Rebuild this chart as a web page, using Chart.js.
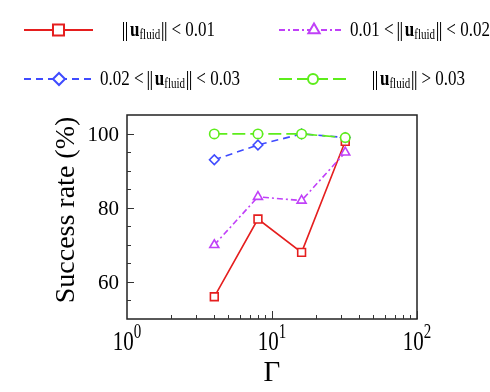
<!DOCTYPE html>
<html>
<head>
<meta charset="utf-8">
<script src="https://cdn.jsdelivr.net/npm/chart.js@4"></script>
<style>
  html, body { margin: 0; padding: 0; background: #fff; }
  canvas { display: block; }
</style>
</head>
<body>
<canvas id="chart" width="490" height="392"></canvas>
<script>
// data
var gammaValues = [4, 8, 16, 32];
var rateBelow001 = [56, 77, 68, 98];
var rate001to002 = [70, 83, 82, 95];
var rate002to003 = [93, 97, 100, 99];
var rateAbove003 = [100, 100, 100, 99];
var yTickValues = [60, 80, 100];
var xTickExponents = [0, 1, 2];
// legend text: [left part, right part] around the norm
var legendParts = [['', ' < 0.01'], ['0.01 < ', ' < 0.02'], ['0.02 < ', ' < 0.03'], ['', ' > 0.03']];

var SERIF = '"Liberation Serif", "Times New Roman", serif';
var TEXT_STRETCH = 1.25;

function toPoints(ys) {
  return gammaValues.map(function (g, i) { return { x: g, y: ys[i] }; });
}

// series styles
var series = [
  { data: rateBelow001, color: '#e51e1e', dash: [], style: 'rect', r: 5.5, lr: 7.8, order: 3 },
  { data: rate001to002, color: '#c040f8', dash: [6, 3, 2, 3], style: 'triangle', r: 5.2, lr: 6.5, order: 2 },
  { data: rate002to003, color: '#3f4bff', dash: [7, 5], style: 'rectRot', r: 4.8, lr: 6, order: 1 },
  { data: rateAbove003, color: '#5ded1b', dash: [13, 5], style: 'circle', r: 4.7, lr: 5, order: 0 }
];

// draw text pieces, with double bars for the norm sign
function drawRich(ctx, x, y, pieces) {
  pieces.forEach(function (p) {
    if (p.bar) {
      ctx.save();
      ctx.strokeStyle = '#000';
      ctx.lineWidth = 1;
      ctx.beginPath();
      ctx.moveTo(x + 0.5, y - 14); ctx.lineTo(x + 0.5, y + 5);
      ctx.moveTo(x + 3.5, y - 14); ctx.lineTo(x + 3.5, y + 5);
      ctx.stroke();
      ctx.restore();
      x += p.w;
      return;
    }
    if (!p.text) return;
    ctx.font = p.font;
    ctx.save();
    ctx.translate(x, y + (p.dy || 0));
    ctx.scale(1, TEXT_STRETCH);
    ctx.fillText(p.text, 0, 0);
    ctx.restore();
    x += ctx.measureText(p.text).width + (p.after || 0);
  });
  return x;
}

function legendPieces(parts) {
  var f = '17px ' + SERIF;
  return [
    { text: parts[0], font: f },
    { bar: true, w: 7 },
    { text: 'u', font: 'bold 17px ' + SERIF },
    { text: 'fluid', font: '11px ' + SERIF, dy: 3, after: 2 },
    { bar: true, w: 5 },
    { text: parts[1], font: f }
  ];
}

var framePlugin = {
  id: 'frame',
  afterDraw: function (chart) {
    var ctx = chart.ctx;
    var a = chart.chartArea;
    var xs = chart.scales.x, ys = chart.scales.y;
    ctx.save();

    // frame
    ctx.strokeStyle = '#222';
    ctx.lineWidth = 1.5;
    ctx.strokeRect(a.left, a.top, a.right - a.left, a.bottom - a.top);

    // inward ticks
    ctx.lineWidth = 1;
    ctx.strokeStyle = '#333';
    ctx.beginPath();
    for (var v = 55; v < 105; v += 5) {
      var py = Math.round(ys.getPixelForValue(v)) + 0.5;
      var len = (v % 20 === 0) ? 7 : 4;
      ctx.moveTo(a.left, py); ctx.lineTo(a.left + len, py);
    }
    [1, 10].forEach(function (dec) {
      for (var k = 2; k <= 10; k++) {
        var px = Math.round(xs.getPixelForValue(dec * k)) + 0.5;
        var l = (k === 10) ? 8 : 4;
        ctx.moveTo(px, a.bottom); ctx.lineTo(px, a.bottom - l);
      }
    });
    ctx.stroke();

    // y tick labels
    ctx.fillStyle = '#000';
    ctx.font = '21px ' + SERIF;
    ctx.textAlign = 'right';
    ctx.textBaseline = 'alphabetic';
    yTickValues.forEach(function (v) {
      ctx.fillText(String(v), a.left - 8, ys.getPixelForValue(v) + 7);
    });

    // x tick labels 10^n
    ctx.textAlign = 'left';
    xTickExponents.forEach(function (e) {
      var cx = xs.getPixelForValue(Math.pow(10, e));
      ctx.save();
      ctx.translate(0, 350);
      ctx.scale(1, 1.35);
      ctx.font = '21px ' + SERIF;
      var w1 = ctx.measureText('10').width;
      ctx.font = '15px ' + SERIF;
      var w2 = ctx.measureText(String(e)).width;
      var x0 = cx - (w1 + w2) / 2;
      ctx.font = '21px ' + SERIF;
      ctx.fillText('10', x0, 0);
      ctx.font = '15px ' + SERIF;
      ctx.fillText(String(e), x0 + w1, -9);
      ctx.restore();
    });

    // axis titles
    ctx.font = '29px ' + SERIF;
    ctx.textAlign = 'center';
    ctx.fillText('\u0393', (a.left + a.right) / 2, 381);
    ctx.save();
    ctx.translate(74, 210);
    ctx.rotate(-Math.PI / 2);
    ctx.font = '28px ' + SERIF;
    ctx.fillText('Success rate (%)', 0, 0);
    ctx.restore();

    // legend
    var slots = [
      { x0: 24, x1: 93, mx: 58.5, y: 30, tx: 123, ty: 36 },
      { x0: 279, x1: 343, mx: 314, y: 30, tx: 350, ty: 36 },
      { x0: 24, x1: 92, mx: 59, y: 79, tx: 100, ty: 85 },
      { x0: 279, x1: 347, mx: 313, y: 79, tx: 373, ty: 85 }
    ];
    series.forEach(function (s, i) {
      var sl = slots[i];
      ctx.save();
      ctx.strokeStyle = s.color;
      ctx.lineWidth = 2;
      ctx.setLineDash(s.dash);
      ctx.beginPath();
      ctx.moveTo(sl.x0, sl.y); ctx.lineTo(sl.x1, sl.y);
      ctx.stroke();
      ctx.setLineDash([]);
      ctx.fillStyle = '#fff';
      ctx.lineWidth = 2;
      Chart.helpers.drawPoint(ctx, { pointStyle: s.style, radius: s.lr, rotation: 0, borderWidth: 2 }, sl.mx, sl.y);
      ctx.restore();
      ctx.fillStyle = '#000';
      ctx.textAlign = 'left';
      drawRich(ctx, sl.tx, sl.ty, legendPieces(legendParts[i]));
    });

    ctx.restore();
  }
};

var ctx = document.getElementById('chart').getContext('2d');
var chart = new Chart(ctx, {
  type: 'line',
  data: {
    datasets: series.map(function (s) {
      return {
        data: toPoints(s.data),
        borderColor: s.color,
        borderWidth: 1.6,
        borderDash: s.dash,
        pointStyle: s.style,
        pointRadius: s.r,
        pointBorderWidth: 1.6,
        pointBorderColor: s.color,
        pointBackgroundColor: '#fff',
        fill: false,
        tension: 0,
        order: s.order
      };
    })
  },
  options: {
    responsive: false,
    animation: false,
    layout: { padding: { left: 127, right: 73, top: 115, bottom: 73 } },
    plugins: { legend: { display: false }, tooltip: { enabled: false } },
    scales: {
      x: { type: 'logarithmic', min: 1, max: 100, display: false },
      y: { type: 'linear', min: 50, max: 105.1, display: false }
    },
    clip: false
  },
  plugins: [framePlugin]
});
</script>
</body>
</html>
